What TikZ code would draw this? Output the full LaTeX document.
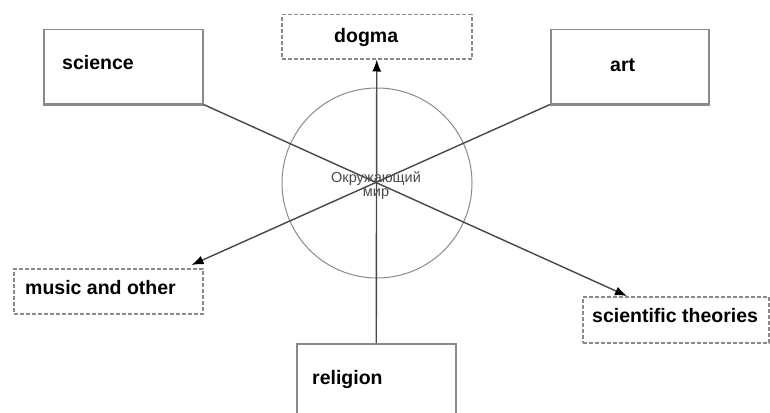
\documentclass[tikz,border=0pt]{standalone}
\usepackage{fontspec}
\setmainfont{Liberation Sans}
\usetikzlibrary{arrows.meta,calc}
\definecolor{boxgray}{HTML}{8A8A8A}
\definecolor{linegray}{HTML}{474747}
\definecolor{textgray}{HTML}{4A4A4A}
\begin{document}
\begin{tikzpicture}[x=1pt,y=-1pt,
  solidbox/.style={draw=boxgray, line width=1.5pt, rectangle, inner sep=0pt, anchor=north west, fill=white},
  dashbox/.style={draw=boxgray, line width=1.5pt, dash pattern=on 4pt off 2pt, rectangle, inner sep=0pt, anchor=north west, fill=white},
  lbl/.style={font=\bfseries\fontsize{19.5}{22}\selectfont, anchor=base west, inner sep=0pt, text=black},
  conn/.style={draw=linegray, line width=1.4pt},
  arr/.style={conn, -{Latex[length=12pt,width=9pt,fill=black,color=black]}}]
\useasboundingbox (0,0) rectangle (770,412);
\clip (0,0) rectangle (770,412);

% world circle
\node[circle, draw=boxgray, line width=1pt, minimum size=190pt, inner sep=0pt] (world) at (377,183) {};

% boxes
\node[solidbox, minimum width=159pt, minimum height=74pt] (science) at (43,29) {};
\node[solidbox, minimum width=158pt, minimum height=74pt] (art) at (550,29) {};
\node[dashbox, minimum width=190pt, minimum height=44pt] (dogma) at (281,14) {};
\node[dashbox, minimum width=189pt, minimum height=45pt] (music) at (13,268) {};
\node[dashbox, minimum width=186pt, minimum height=46pt] (scith) at (582,296) {};
\node[solidbox, minimum width=159pt, minimum height=85pt] (religion) at (296,343) {};

% thicker bottom edges of solid boxes
\draw[boxgray, line width=2.5pt] (science.south west) -- (science.south east);
\draw[boxgray, line width=2.5pt] (art.south west) -- (art.south east);

% labels
\node[lbl] (tsci) at (62,69) {science};
\node[lbl] (tart) at (610,71) {art};
\node[lbl] (tdog) at (334,42) {dogma};
\node[lbl] (tmus) at (25,294) {music and other};
\node[lbl] (tsth) at (592,322) {scientific theories};
\node[lbl] (trel) at (312,384) {religion};

% connectors
\coordinate (stip) at ($(scith.north west)+(45,0)$);
\coordinate (mtip) at ($(music.north east)+(-12,-3)$);
\draw[arr] (religion.north) -- (dogma.south);
\draw[arr] (science.south east) -- (stip);
\draw[arr] (art.south west) -- (mtip);

% centre text
\node[font=\fontsize{14.5}{15}\selectfont, text=textgray, anchor=base, inner sep=0pt] (w1) at (376,182) {Окружающий};
\node[font=\fontsize{14.5}{15}\selectfont, text=textgray, anchor=base, inner sep=0pt] (w2) at (376,196) {мир};
\end{tikzpicture}
\end{document}
